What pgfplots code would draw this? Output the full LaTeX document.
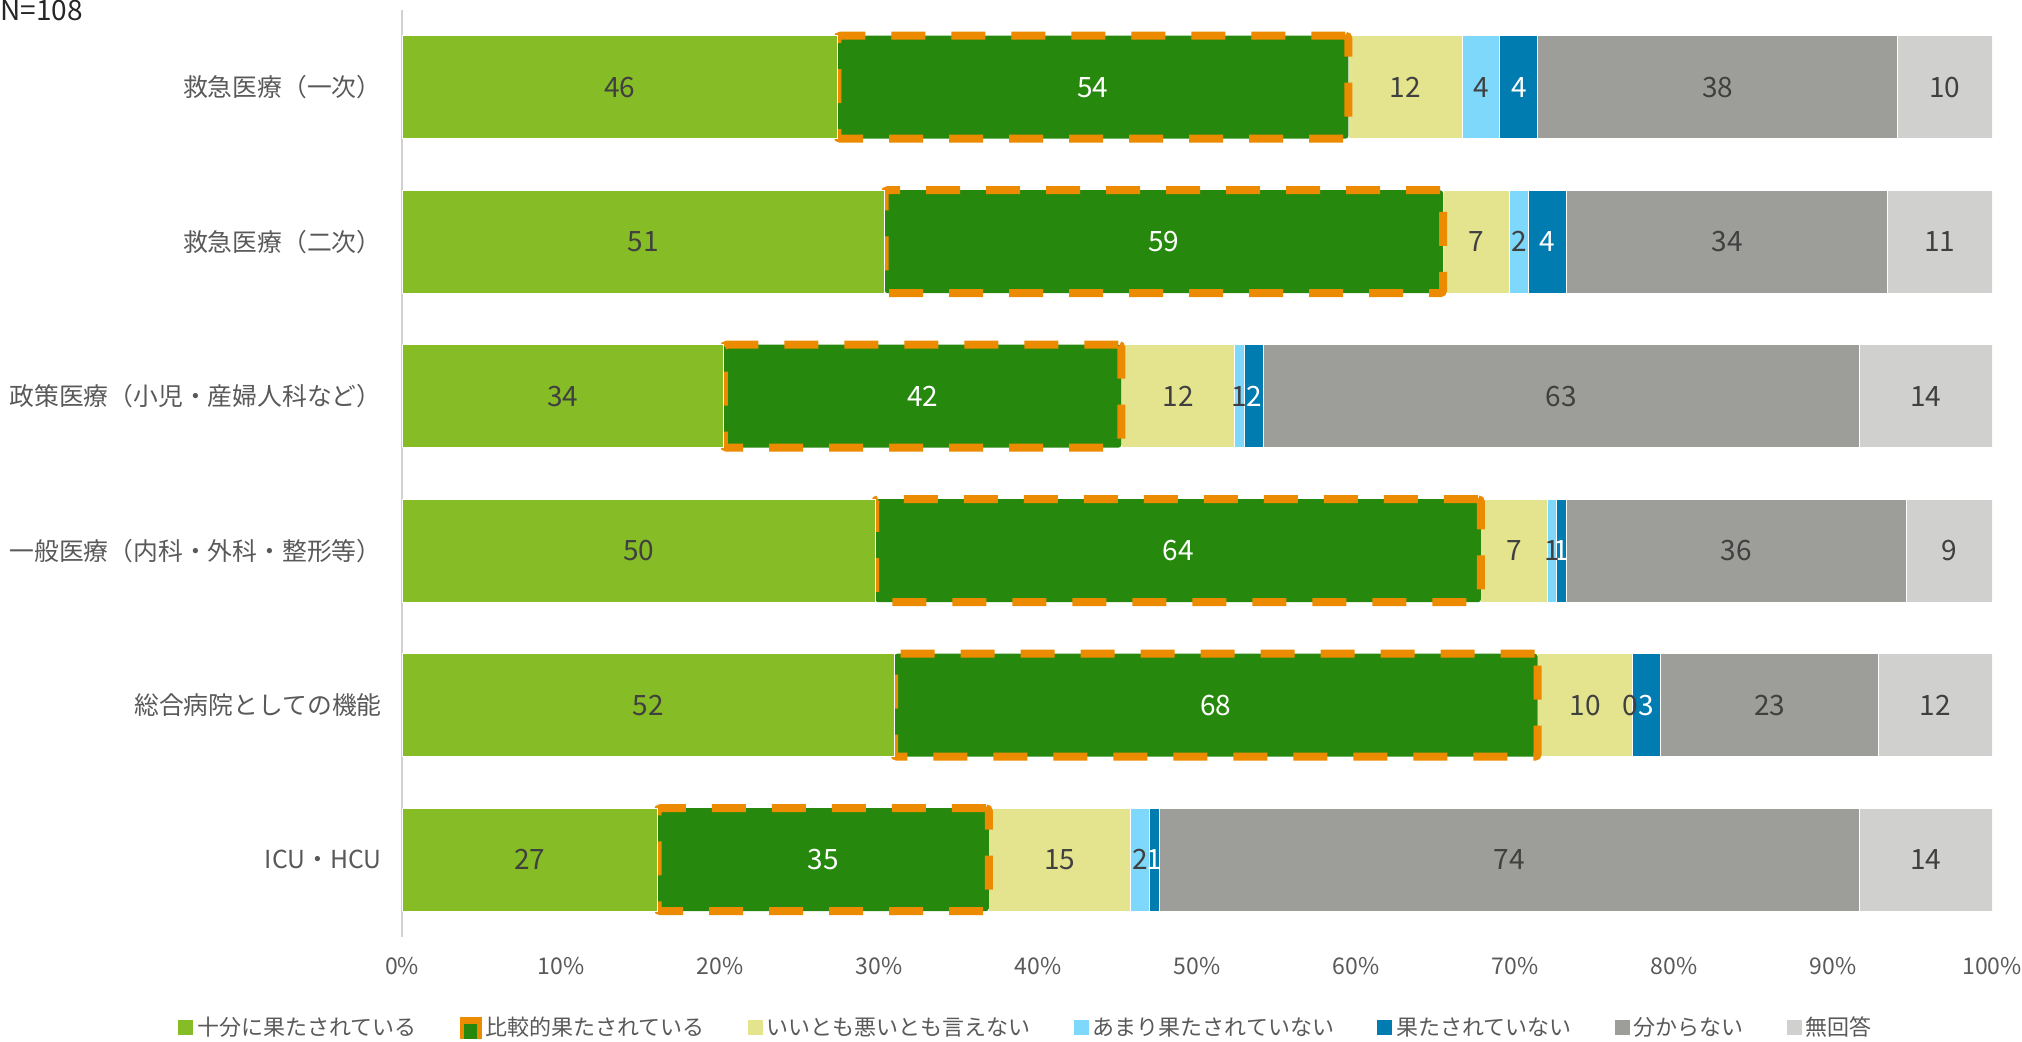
\documentclass[border=0pt]{standalone}
\usepackage{fontspec}
\setmainfont{Noto Sans CJK JP}
\usepackage{pgfplots}
\pgfplotsset{compat=1.18}

\definecolor{c1}{HTML}{86BC25}
\definecolor{c2}{HTML}{26890D}
\definecolor{c3}{HTML}{E3E48D}
\definecolor{c4}{HTML}{7DD8FB}
\definecolor{c5}{HTML}{007CB0}
\definecolor{c6}{HTML}{9D9E99}
\definecolor{c7}{HTML}{D0D0CE}
\definecolor{edge}{HTML}{ED8B00}
\definecolor{txt}{HTML}{595959}
\definecolor{num}{HTML}{404040}

\begin{document}
\begin{tikzpicture}
\begin{axis}[
  at={(0,0)}, anchor=south west,
  scale only axis, width=795pt, height=463.5pt,
  set layers=standard, mark layer=axis foreground,
  xbar stacked, bar width=51.5pt,
  xmin=0, xmax=168, ymin=-0.5, ymax=5.5, y dir=reverse,
  axis lines*=left,
  x axis line style={draw=none},
  y axis line style={draw=black!18, line width=1pt},
  major tick length=0pt,
  xtick={0,16.8,33.6,50.4,67.2,84,100.8,117.6,134.4,151.2,168},
  xticklabels={0\%,10\%,20\%,30\%,40\%,50\%,60\%,70\%,80\%,90\%,100\%},
  ytick={0,1,2,3,4,5},
  yticklabels={救急医療（一次）,救急医療（二次）,政策医療（小児・産婦人科など）,一般医療（内科・外科・整形等）,総合病院としての機能,ICU・HCU},
  tick label style={text=txt},
  xticklabel style={font=\fontsize{11.5}{13}\selectfont, inner sep=0pt, yshift=-10pt},
  yticklabel style={font=\fontsize{12.4}{14}\selectfont, inner sep=0pt, xshift=-10pt},
  /pgf/number format/assume math mode=true,
  visualization depends on={rawx \as \rawx},
  nodes near coords={\pgfmathprintnumber{\rawx}},
  every node near coord/.append style={font=\fontsize{14}{16}\selectfont, text=num, anchor=center},
  legend style={at={(0.393,-0.098)}, anchor=center, draw=none, fill=none,
    font=\fontsize{11}{13}\selectfont, text=txt, legend columns=7,
    /tikz/every even column/.append style={column sep=19.5pt}},
  legend cell align=left,
]
\addplot[fill=c1, draw=white, line width=0.5pt,
  legend image code/.code={\fill[c1] (0pt,-3.5pt) rectangle (7pt,3.5pt);}]
  coordinates {(46,0) (51,1) (34,2) (50,3) (52,4) (27,5)};
\addplot[fill=c2, draw=edge, line width=4pt, dash pattern=on 17pt off 13pt,
  rounded corners=1.5pt,
  every node near coord/.append style={text=white},
  legend image code/.code={\fill[edge, sharp corners, solid] (0pt,-3.5pt) rectangle (7pt,3.5pt);
    \fill[c2, sharp corners, solid] (2pt,-3.5pt) rectangle (4.5pt,0pt);}]
  coordinates {(54,0) (59,1) (42,2) (64,3) (68,4) (35,5)};
\addplot[fill=c3, draw=white, line width=0.5pt,
  legend image code/.code={\fill[c3] (0pt,-3.5pt) rectangle (7pt,3.5pt);}]
  coordinates {(12,0) (7,1) (12,2) (7,3) (10,4) (15,5)};
\addplot[fill=c4, draw=white, line width=0.5pt,
  legend image code/.code={\fill[c4] (0pt,-3.5pt) rectangle (7pt,3.5pt);}]
  coordinates {(4,0) (2,1) (1,2) (1,3) (0,4) (2,5)};
\addplot[fill=c5, draw=white, line width=0.5pt,
  every node near coord/.append style={text=white},
  legend image code/.code={\fill[c5] (0pt,-3.5pt) rectangle (7pt,3.5pt);}]
  coordinates {(4,0) (4,1) (2,2) (1,3) (3,4) (1,5)};
\addplot[fill=c6, draw=white, line width=0.5pt,
  legend image code/.code={\fill[c6] (0pt,-3.5pt) rectangle (7pt,3.5pt);}]
  coordinates {(38,0) (34,1) (63,2) (36,3) (23,4) (74,5)};
\addplot[fill=c7, draw=white, line width=0.5pt,
  legend image code/.code={\fill[c7] (0pt,-3.5pt) rectangle (7pt,3.5pt);}]
  coordinates {(10,0) (11,1) (14,2) (9,3) (12,4) (14,5)};
\legend{十分に果たされている,比較的果たされている,いいとも悪いとも言えない,あまり果たされていない,果たされていない,分からない,無回答}
% where the zero segment of row 5 sits (52+68+10); pgfplots drops its label
\coordinate (zero) at (axis cs:130,4);
\end{axis}
\node[font=\fontsize{14}{16}\selectfont, text=num, xshift=-1pt] at (zero) {0};
\node[anchor=north west, inner sep=0pt, font=\fontsize{14}{16}\selectfont, text=black!85] at (-201pt,468.5pt) {N=108};
\pgfresetboundingbox
\useasboundingbox (-201pt,-52.5pt) rectangle (810pt,468.5pt);
\end{tikzpicture}
\end{document}
